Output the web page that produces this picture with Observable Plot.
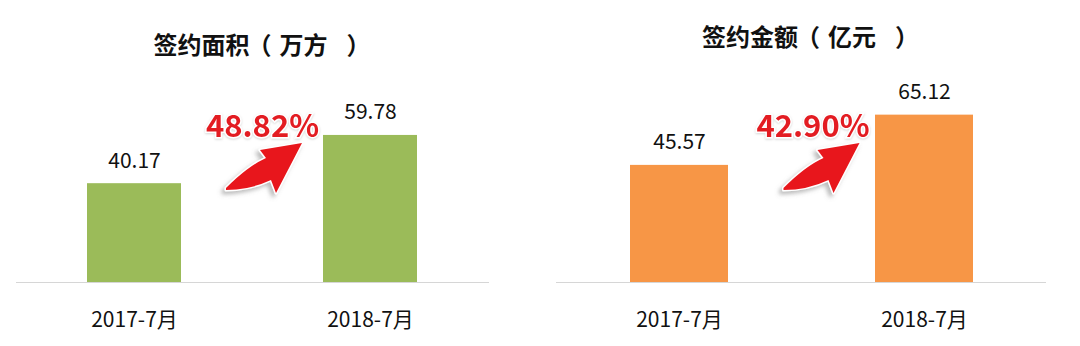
<!DOCTYPE html>
<html><head><meta charset="utf-8">
<script src="https://cdn.jsdelivr.net/npm/d3@7"></script>
<script src="https://cdn.jsdelivr.net/npm/@observablehq/plot@0.6"></script>
<style>
html,body{margin:0;padding:0;background:#fff;}
#wrap{display:flex;width:1080px;height:346px;overflow:hidden;}
.panel{position:relative;width:540px;height:346px;}
.panel svg{position:absolute;left:0;top:0;}
.title{position:absolute;text-align:center;font-family:"Noto Sans CJK SC","Noto Sans",sans-serif;font-weight:700;font-size:24px;line-height:24px;color:#111;white-space:nowrap;z-index:2;}
.title .lp{display:inline-block;width:30px;position:relative;left:-5px;}
.title .rp{display:inline-block;width:24px;position:relative;left:19px;}
</style></head><body><div id="wrap"></div>
<script>
// ---- data ----
const categories = ["2017-7月", "2018-7月"];
const areaValues = [40.17, 59.78];     // 签约面积（万方）
const amountValues = [45.57, 65.12];   // 签约金额（亿元）
const titleNames = ["签约面积", "签约金额"];
const titleUnits = ["万方", "亿元"];
const growthLabels = ["48.82%", "42.90%"];

// ---- styles / layout ----
const FONT = '"Noto Sans CJK SC","Noto Sans",sans-serif';
const panels = [
  {values: areaValues, name: titleNames[0], unit: titleUnits[0], growth: growthLabels[0], fill: "#9BBB59",
   marginRight: 51, marginTop: 36, titleTop: 32, arrowShift: 0, pctShift: 10.5, id: "a"},
  {values: amountValues, name: titleNames[1], unit: titleUnits[1], growth: growthLabels[1], fill: "#F79646",
   marginRight: 34, marginTop: 25, titleTop: 24, arrowShift: 8, pctShift: 11.5, id: "b"}
];

function growthMark(cfg) {
  return (index, scales) => {
    const x = scales.x;
    const bw = typeof x.bandwidth === "function" ? x.bandwidth() : (x.bandwidth || 0);
    const mx = (x(categories[0]) + x(categories[1])) / 2 + bw / 2;
    const ax = mx + cfg.arrowShift;
    const g = d3.create("svg:g");
    const defs = g.append("defs");
    const f = defs.append("filter").attr("id", "sh" + cfg.id)
      .attr("x", "-40%").attr("y", "-40%").attr("width", "180%").attr("height", "180%");
    f.append("feDropShadow").attr("dx", -3).attr("dy", 3).attr("stdDeviation", 2)
      .attr("flood-color", "#777").attr("flood-opacity", 0.5);
    const f2 = defs.append("filter").attr("id", "ts" + cfg.id)
      .attr("x", "-20%").attr("y", "-30%").attr("width", "140%").attr("height", "160%");
    f2.append("feDropShadow").attr("dx", 0).attr("dy", 1).attr("stdDeviation", 1)
      .attr("flood-color", "#999").attr("flood-opacity", 0.4);
    const p = (dx, y) => `${ax + dx},${y}`;
    const d = `M${p(-26, 190)} Q${p(-2, 190)} ${p(19, 180)} L${p(24, 193)} L${p(50, 143)} ` +
              `L${p(8, 150)} L${p(14, 158)} Q${p(-4, 166)} ${p(-26, 188)} Z`;
    g.append("path").attr("d", d).attr("fill", "#E8161B")
      .attr("stroke", "#fff").attr("stroke-width", 3).attr("stroke-linejoin", "round")
      .attr("paint-order", "stroke").attr("filter", `url(#sh${cfg.id})`);
    g.append("text").attr("x", mx + cfg.pctShift).attr("y", 137)
      .attr("text-anchor", "middle").attr("font-family", FONT).attr("font-weight", 700)
      .attr("font-size", 31).attr("fill", "#E31E24")
      .attr("stroke", "#fff").attr("stroke-width", 3).attr("paint-order", "stroke")
      .attr("filter", `url(#ts${cfg.id})`)
      .text(cfg.growth);
    return g.node();
  };
}

const wrap = document.getElementById("wrap");
for (const cfg of panels) {
  const data = categories.map((c, j) => ({cat: c, v: cfg.values[j]}));
  const div = document.createElement("div");
  div.className = "panel";
  const plot = Plot.plot({
    width: 540, height: 346,
    marginLeft: 16, marginRight: cfg.marginRight, marginTop: cfg.marginTop, marginBottom: 64,
    x: {domain: categories, paddingInner: 0.6, paddingOuter: 0.3, align: 0.5, axis: null},
    y: {domain: [0, 100], axis: null},
    style: {fontFamily: FONT, background: "#fff", overflow: "visible"},
    marks: [
      Plot.barY(data, {x: "cat", y: "v", fill: cfg.fill}),
      Plot.ruleY([0], {stroke: "#d6d6d6", strokeWidth: 1}),
      Plot.text(data, {x: "cat", y: "v", text: d => d.v.toFixed(2), lineAnchor: "bottom",
        dy: -16, fontSize: 21, fill: "#111"}),
      Plot.text(data, {x: "cat", y: () => 0, text: "cat", lineAnchor: "top",
        dy: 30, fontSize: 21, fill: "#111"}),
      growthMark(cfg)
    ]
  });
  div.appendChild(plot);
  const t = document.createElement("div");
  t.className = "title";
  t.append(cfg.name);
  const lp = document.createElement("span"); lp.className = "lp"; lp.textContent = "（";
  const rp = document.createElement("span"); rp.className = "rp"; rp.textContent = "）";
  t.append(lp, cfg.unit, rp);
  t.style.left = "16px";
  t.style.width = (540 - 16 - cfg.marginRight) + "px";
  t.style.top = cfg.titleTop + "px";
  div.appendChild(t);
  wrap.appendChild(div);
}
</script></body></html>
